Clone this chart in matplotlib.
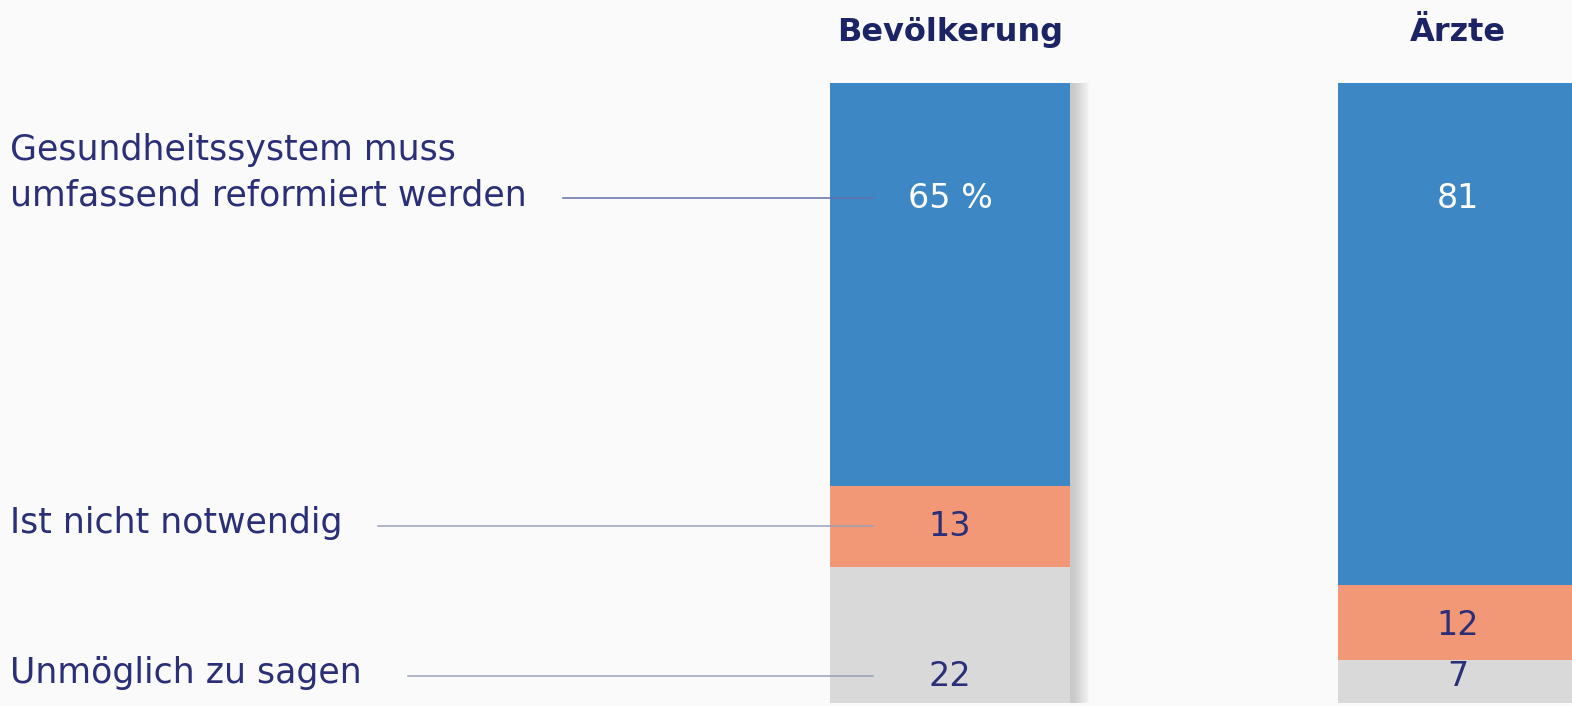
import matplotlib
matplotlib.use("Agg")
import matplotlib.pyplot as plt

groups = ["Bevölkerung", "Ärzte"]
categories = ["Gesundheitssystem muss\numfassend reformiert werden",
              "Ist nicht notwendig",
              "Unmöglich zu sagen"]
reform = [65, 81]
nicht = [13, 12]
unmoeglich = [22, 7]
value_labels = [["65 %", "13", "22"], ["81", "12", "7"]]

colors = ["#3d87c5", "#f29877", "#d9d9d9"]
text_col = "#2b2f78"
title_col = "#1c2466"
bg = "#fafafa"

W, H = 1572, 706
fig = plt.figure(figsize=(W / 100, H / 100), dpi=100, facecolor=bg)
# axes vertical extent: bar top at 83px, bottom at 703px
ax = fig.add_axes([0, (H - 703) / H, 1, (703 - 83) / H])
ax.set_facecolor(bg)
c0, step = 950, 508
ax.set_xlim(-c0 / step, (W - c0) / step)
ax.set_ylim(0, 100)
ax.axis("off")

xs = [0, 1]
bw = 240 / step
px = 1 / step  # one pixel in x data units

# soft shadow, mostly to the right of each bar
for k in range(12):
    ax.bar([x + (4 + k * 0.6) * px for x in xs], [100, 100], width=bw + 1.6 * k * px,
           color="#707070", alpha=0.03, linewidth=0, zorder=1)

ax.bar(xs, unmoeglich, width=bw, color=colors[2], zorder=2, linewidth=0)
ax.bar(xs, nicht, bottom=unmoeglich, width=bw, color=colors[1], zorder=2, linewidth=0)
bot3 = [a + b for a, b in zip(unmoeglich, nicht)]
ax.bar(xs, reform, bottom=bot3, width=bw, color=colors[0], zorder=2, linewidth=0)

fs = 24
for i, x in enumerate(xs):
    top = unmoeglich[i] + nicht[i] + reform[i]
    ax.text(x, top - 18.6, value_labels[i][0], ha="center", va="center",
            color="white", fontsize=fs, zorder=5)
    ax.text(x, unmoeglich[i] + nicht[i] / 2 - (0.5 if i == 1 else 0), value_labels[i][1],
            ha="center", va="center", color=text_col, fontsize=fs, zorder=5)
    ax.text(x, 4.3, value_labels[i][2], ha="center", va="center",
            color=text_col, fontsize=fs, zorder=5)
    ax.text(x, 108.2, groups[i], ha="center", va="center", color=title_col,
            fontsize=23, fontweight="bold", clip_on=False, zorder=5)

# left labels with leader lines (aligned with Bevölkerung values)
top0 = unmoeglich[0] + nicht[0] + reform[0]
label_y = [top0 - 18.6, unmoeglich[0] + nicht[0] / 2, 4.3]
line_start = [(563 - c0) / step, (378 - c0) / step, (408 - c0) / step]
line_end = (873 - c0) / step
x_text = (10 - c0) / step
line_cols = ["#5f70a8", "#9aa0b8", "#9aa0b8"]
for lab, y, xs0, lc in zip(categories, label_y, line_start, line_cols):
    lines = lab.split("\n")
    n = len(lines)
    for j, ln in enumerate(lines):
        # baseline ~7px below leader line; earlier lines 45px higher each
        off = (-7 + 45 * (n - 1 - j)) * 0.72
        ax.annotate(ln, xy=(x_text, y), xytext=(0, off), textcoords="offset points",
                    ha="left", va="baseline", color=text_col, fontsize=25,
                    annotation_clip=False)
    ax.plot([xs0, line_end], [y, y], color=lc, lw=1.1, zorder=4)

fig.savefig("out.png", dpi=100, facecolor=bg)
